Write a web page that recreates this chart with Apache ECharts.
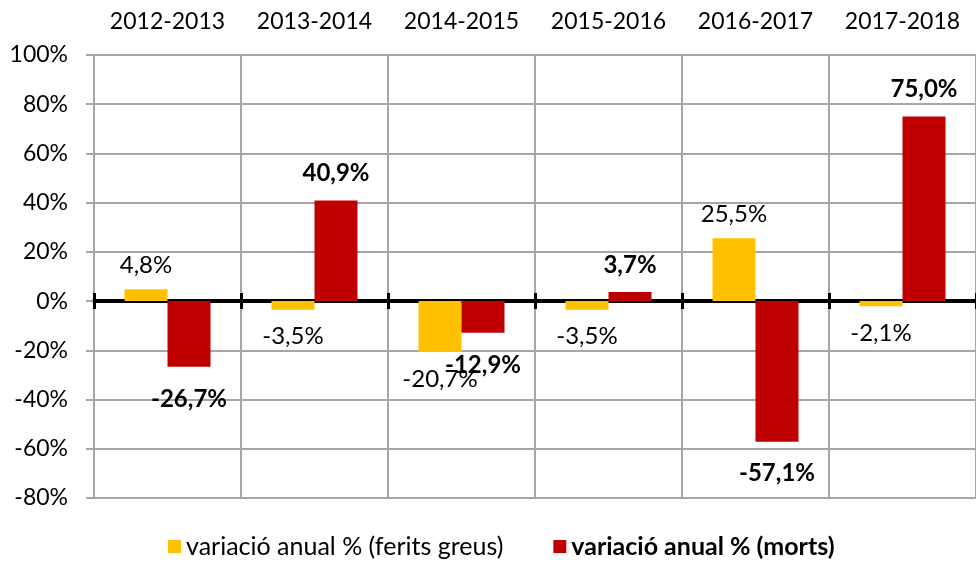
<!DOCTYPE html>
<html><head><meta charset="utf-8">
<script src="https://cdn.jsdelivr.net/npm/echarts@6/dist/echarts.min.js"></script>
<style>html,body{margin:0;padding:0;background:#fff}#c{width:976px;height:568px}</style>
</head><body><div id="c"></div>
<script>
const categories = ['2012-2013','2013-2014','2014-2015','2015-2016','2016-2017','2017-2018'];
const feritsName = 'variació anual % (ferits greus)';
const mortsName = 'variació anual % (morts)';
const ferits = [4.8, -3.5, -20.7, -3.5, 25.5, -2.1];
const morts = [-26.7, 40.9, -12.9, 3.7, -57.1, 75.0];
const yTicks = {min: -80, max: 100, interval: 20};

const FONT = 'Lato';
const fmt = v => v.toFixed(1).replace('.', ',') + '%';
function items(arr, dPos, dNeg) {
  return arr.map(v => ({
    value: v,
    label: {position: v >= 0 ? 'top' : 'bottom', distance: v >= 0 ? dPos : dNeg}
  }));
}
const GRID = {left: 94, right: 0, top: 55, bottom: 70};
const chart = echarts.init(document.getElementById('c'));
chart.setOption({
  animation: false,
  textStyle: {fontFamily: FONT},
  grid: [Object.assign({}, GRID), Object.assign({}, GRID)],
  legend: {
    bottom: 4, left: 163,
    itemWidth: 13, itemHeight: 13, itemGap: 50,
    textStyle: {fontFamily: FONT, fontSize: 25, color: '#000'},
    data: [{name: feritsName, icon: 'rect'},
           {name: mortsName, icon: 'rect', textStyle: {fontWeight: 'bold'}}]
  },
  xAxis: [{
    gridIndex: 0, type: 'category', data: categories, position: 'top',
    axisLine: {show: false, onZero: false}, axisTick: {show: false, interval: 0},
    axisLabel: {fontFamily: FONT, fontSize: 23, color: '#000', margin: 22, interval: 0},
    splitLine: {show: true, interval: 0, lineStyle: {color: '#a6a6a6', width: 2}}
  }, {
    gridIndex: 0, type: 'category', data: categories, position: 'bottom',
    axisLine: {show: true, onZero: true, lineStyle: {color: '#000', width: 4}},
    axisTick: {show: true, inside: false, interval: 0, length: 8, lineStyle: {color: '#000', width: 3}},
    axisLabel: {show: false, interval: 0}, splitLine: {show: false}
  }, {
    gridIndex: 1, type: 'category', data: categories, position: 'bottom',
    axisLine: {show: false, onZero: true},
    axisTick: {show: true, inside: true, interval: 0, length: 8, lineStyle: {color: '#000', width: 3}},
    axisLabel: {show: false, interval: 0}, splitLine: {show: false}
  }],
  yAxis: [{
    gridIndex: 0, type: 'value', min: yTicks.min, max: yTicks.max, interval: yTicks.interval,
    axisLine: {show: true, lineStyle: {color: '#a6a6a6', width: 2}},
    axisTick: {show: true, length: 8, lineStyle: {color: '#a6a6a6', width: 2}},
    axisLabel: {fontFamily: FONT, fontSize: 23, color: '#000', margin: 26, formatter: '{value}%'},
    splitLine: {show: true, lineStyle: {color: '#a6a6a6', width: 2}}
  }, {
    gridIndex: 1, type: 'value', min: yTicks.min, max: yTicks.max, interval: yTicks.interval,
    axisLine: {show: false}, axisTick: {show: false}, axisLabel: {show: false}, splitLine: {show: false}
  }],
  series: [{
    name: feritsName, type: 'bar', xAxisIndex: 0, yAxisIndex: 0,
    barWidth: 43, barGap: '0%',
    itemStyle: {color: '#FFC000'},
    label: {show: true, fontFamily: FONT, fontSize: 24, color: '#000', formatter: p => fmt(p.value)},
    data: items(ferits, 12, 15), z: 1
  }, {
    name: mortsName, type: 'bar', xAxisIndex: 0, yAxisIndex: 0,
    barWidth: 43, barGap: '0%',
    itemStyle: {color: '#C00000'},
    label: {show: true, fontFamily: FONT, fontSize: 24, fontWeight: 'bold', color: '#000', formatter: p => fmt(p.value)},
    data: items(morts, 15, 20), z: 1
  }]
});
</script></body></html>
